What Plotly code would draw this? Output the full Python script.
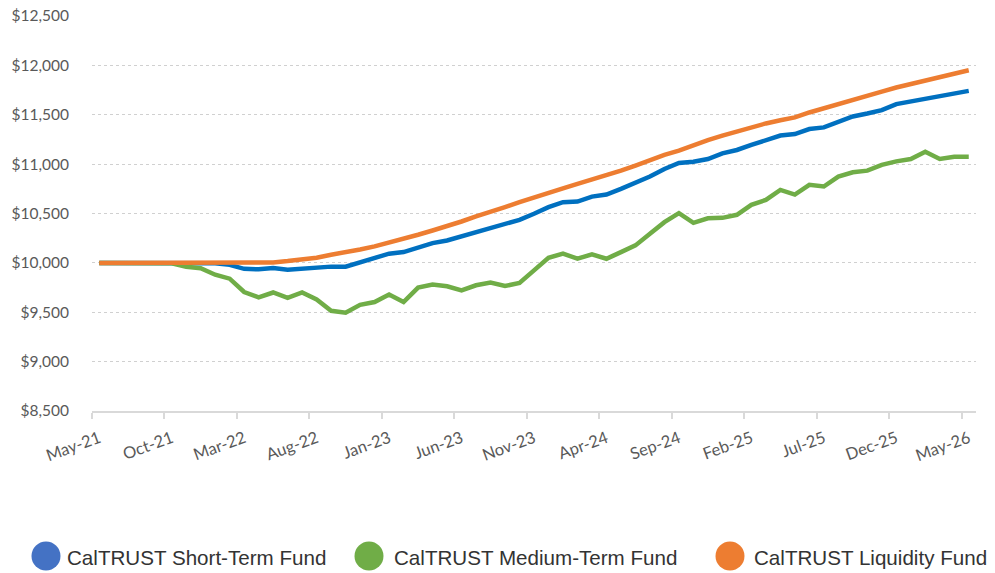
import plotly.graph_objects as go

months = ["May-21","Jun-21","Jul-21","Aug-21","Sep-21","Oct-21","Nov-21","Dec-21","Jan-22","Feb-22",
          "Mar-22","Apr-22","May-22","Jun-22","Jul-22","Aug-22","Sep-22","Oct-22","Nov-22","Dec-22",
          "Jan-23","Feb-23","Mar-23","Apr-23","May-23","Jun-23","Jul-23","Aug-23","Sep-23","Oct-23",
          "Nov-23","Dec-23","Jan-24","Feb-24","Mar-24","Apr-24","May-24","Jun-24","Jul-24","Aug-24",
          "Sep-24","Oct-24","Nov-24","Dec-24","Jan-25","Feb-25","Mar-25","Apr-25","May-25","Jun-25",
          "Jul-25","Aug-25","Sep-25","Oct-25","Nov-25","Dec-25","Jan-26","Feb-26","Mar-26","Apr-26",
          "May-26"]

short_term = [10000, 10000, 10000, 10000, 10000, 10000, 10000, 10000, 9995, 9980,
              9940, 9935, 9948, 9931, 9941, 9962, 9962, 9962, 10008, 10052,
              10093, 10109, 10153, 10200, 10227, 10268, 10311, 10352, 10386, 10436,
              10497, 10564, 10614, 10621, 10671, 10692, 10749, 10806, 10874, 10951,
              11012, 11025, 11052, 11109, 11143, 11194, 11244, 11290, 11305, 11355,
              11372, 11429, 11483, 11513, 11547, 11608, 11634, 11664, 11685, 11719,
              11742]

medium_term = [10000, 10000, 10005, 10005, 10003, 9995, 9960, 9945, 9880, 9840,
               9705, 9650, 9700, 9645, 9700, 9630, 9515, 9495, 9575, 9604,
               9680, 9604, 9750, 9780, 9763, 9722, 9773, 9800, 9766, 9796,
               9924, 10052, 10093, 10042, 10086, 10042, 10109, 10177, 10295, 10412,
               10503, 10406, 10452, 10456, 10487, 10588, 10638, 10739, 10692, 10790,
               10773, 10874, 10917, 10934, 10992, 11028, 11052, 11126, 11052, 11075,
               11075]

liquidity = [10000, 10000, 10000, 10000, 10000, 10000, 10000, 10000, 10000, 10000,
             10000, 10002, 10005, 10018, 10032, 10052, 10083, 10105, 10136, 10167,
             10204, 10237, 10285, 10328, 10369, 10419, 10470, 10513, 10564, 10614,
             10665, 10709, 10755, 10800, 10843, 10884, 10934, 10985, 11042, 11093,
             11136, 11194, 11244, 11288, 11331, 11372, 11412, 11445, 11473, 11523,
             11567, 11608, 11658, 11699, 11735, 11776, 11810, 11843, 11884, 11921,
             11951]

series_names = ["CalTRUST Short-Term Fund", "CalTRUST Medium-Term Fund", "CalTRUST Liquidity Fund"]
line_colors = ["#0070C0", "#70AD47", "#ED7D31"]
legend_colors = ["#4472C4", "#70AD47", "#ED7D31"]

label_idx = list(range(0, len(months), 5))
label_text = [months[i] for i in label_idx]

x = list(range(len(months)))

fig = go.Figure()
for name, vals, col in zip(series_names, [short_term, medium_term, liquidity], line_colors):
    fig.add_trace(go.Scatter(x=x, y=vals, mode="lines", name=name,
                             line=dict(color=col, width=4.5), showlegend=False))

# The page body has an 8px margin, so the figure is drawn 8px smaller and
# all page-pixel positions are shifted by that offset.
OFF = 8
W, H = 995 - OFF, 573 - OFF
# plot area in page pixels: x 92..976, y 16..411
L = 92 - OFF
T = 16 - OFF
R = W - (976 - OFF)
B = H - (411 - OFF)
pw = W - L - R
ph = H - T - B

def px_x(p):
    return (p - OFF - L) / pw

def px_y(p):
    return (H - B - (p - OFF)) / ph

# manual legend (page pixel positions)
legend_circle_cx = [46, 369, 730]
legend_text_x = [65, 392, 752]
legend_cy = 556
for cx, tx, name, col in zip(legend_circle_cx, legend_text_x, series_names, legend_colors):
    fig.add_shape(type="circle", xref="paper", yref="paper",
                  xsizemode="pixel", ysizemode="pixel",
                  xanchor=px_x(cx), yanchor=px_y(legend_cy),
                  x0=-14.5, x1=14.5, y0=-14.5, y1=14.5,
                  fillcolor=col, line=dict(width=0))
    fig.add_annotation(x=px_x(tx), y=px_y(legend_cy + 1), xref="paper", yref="paper",
                       text=name, showarrow=False, xanchor="left", yanchor="middle",
                       font=dict(family="Liberation Sans", size=20.6, color="#333333"))

fig.update_layout(
    width=W, height=H,
    margin=dict(l=L, r=R, t=T, b=B, autoexpand=False),
    paper_bgcolor="white", plot_bgcolor="white",
    showlegend=False,
    font=dict(family="Lato", size=15, color="#595959"),
)
fig.update_xaxes(
    range=[-0.5, len(months) - 0.5], automargin=False,
    tickmode="array", tickvals=label_idx, ticktext=label_text,
    tickangle=-20, ticks="", showgrid=False, zeroline=False,
    showline=True, linecolor="#D9D9D9", linewidth=1.5,
    ticklabelstandoff=10, ticklabeloverflow="allow",
    tickfont=dict(family="Lato", size=16.5, color="#595959"),
    minor=dict(ticks="outside", tick0=-0.5, dtick=5, ticklen=6,
               tickcolor="#D9D9D9", tickwidth=1.5, showgrid=False),
)
fig.update_yaxes(
    range=[8500, 12500], dtick=500, tick0=8500, automargin=False,
    tickprefix="$", tickformat=",",
    showgrid=True, gridcolor="#D0D0D0", griddash="dot", gridwidth=1,
    zeroline=False, showline=False, ticks="",
    ticklabelstandoff=22, ticklabeloverflow="allow",
    tickfont=dict(family="Lato", size=15.5, color="#595959"),
)

fig.write_html("out.html")
